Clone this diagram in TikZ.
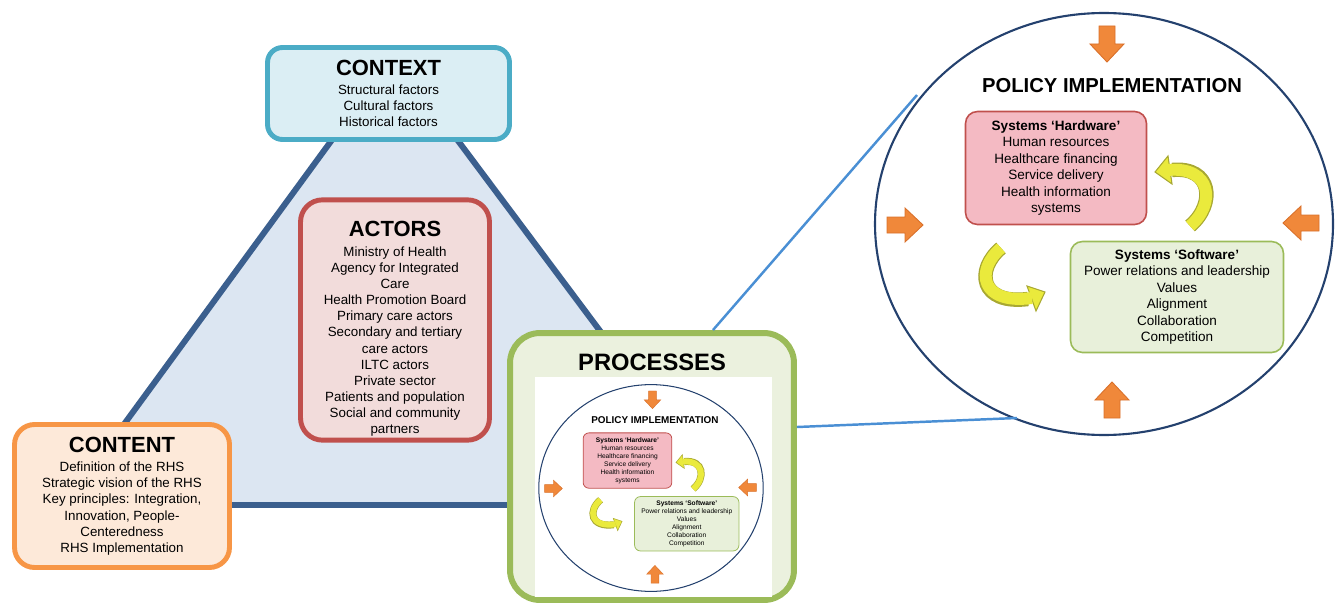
\documentclass[tikz,border=0pt]{standalone}
\usepackage{fontspec}
\setmainfont{Liberation Sans}
\usepackage{tikz}
\usetikzlibrary{positioning, calc}

\definecolor{ctxline}{HTML}{4BACC6}
\definecolor{ctxfill}{HTML}{DBEEF4}
\definecolor{actline}{HTML}{C0504D}
\definecolor{actfill}{HTML}{F2DCDB}
\definecolor{conline}{HTML}{F79646}
\definecolor{confill}{HTML}{FDE9D9}
\definecolor{proline}{HTML}{9BBB59}
\definecolor{profill}{HTML}{EBF1DE}
\definecolor{triline}{HTML}{3B5F8E}
\definecolor{trifill}{HTML}{DCE6F2}
\definecolor{linkline}{HTML}{4A8FD4}
\definecolor{circline}{HTML}{24416E}
\definecolor{orfill}{HTML}{F0883A}
\definecolor{ordraw}{HTML}{D9702A}
\definecolor{hwfill}{HTML}{F4BAC3}
\definecolor{swfill}{HTML}{E8F0DA}
\definecolor{ylfill}{HTML}{EAEA3C}
\definecolor{yldraw}{HTML}{A8A832}

\newcommand{\titlefont}{\bfseries\fontsize{12.5}{14}\selectfont}
\newcommand{\bodyfont}{\fontsize{7.6}{9.2}\selectfont}
\newcommand{\sysfont}{\fontsize{7.7}{9.4}\selectfont}

\tikzset{
    pics/barrow/.style={code={
        \filldraw[fill=orfill, draw=ordraw, line width=#1*0.5pt]
            (-18,-8) -- (0,-8) -- (0,-17) -- (18,0) -- (0,17) -- (0,8) -- (-18,8) -- cycle;
    }},
    pics/policy/.style={code={
        % outer circle
        \draw[circline, line width=#1*1.2pt] (0,0) ellipse [x radius=229, y radius=211];
        \coordinate (-in1) at (-187,-129);
        \coordinate (-in2) at (-87,194);
        % pressure arrows
        \pic[rotate=-90] at (3,-180) {barrow=#1};
        \pic[rotate=90] at (8,176) {barrow=#1};
        \pic at (-199,1) {barrow=#1};
        \pic[rotate=180] at (197,-1) {barrow=#1};
        % title and system boxes
        \node[font=\bfseries\fontsize{11.5}{13}\selectfont] (-title) at (8,-138) {POLICY IMPLEMENTATION};
        \node[sysbox={actline}{hwfill}, line width=#1*0.9pt, rounded corners=#1*6.8pt,
              minimum width=3.62cm, minimum height=2.26cm] (-hw) at (-48,-56)
            {{\bfseries Systems ‘Hardware’}\\Human resources\\Healthcare financing\\Service delivery\\Health information\\systems};
        \node[sysbox={proline}{swfill}, line width=#1*0.9pt, rounded corners=#1*6.8pt,
              minimum width=4.26cm, minimum height=2.22cm] (-sw) at (73,73)
            {{\bfseries Systems ‘Software’}\\Power relations and leadership\\Values\\Alignment\\Collaboration\\Competition};
        % cycle arrows
        \draw[yldraw, line width=#1*8.2pt] (86,2) .. controls (112,-20) and (108,-58) .. (68,-54);
        \filldraw[fill=ylfill, draw=yldraw, line width=#1*0.6pt] (51,-52) -- (64,-68) -- (68,-40) -- cycle;
        \draw[ylfill, line width=#1*6.8pt] (86,2) .. controls (112,-20) and (108,-58) .. (64,-54);
        \draw[yldraw, line width=#1*8.2pt] (-103,24) .. controls (-129,46) and (-124,81) .. (-76,75);
        \filldraw[fill=ylfill, draw=yldraw, line width=#1*0.6pt] (-59,68) -- (-77,62) -- (-68,87) -- cycle;
        \draw[ylfill, line width=#1*6.8pt] (-103,24) .. controls (-129,46) and (-124,81) .. (-72,74);
    }}
}

\begin{document}
\begin{tikzpicture}[
    x=0.02cm, y=-0.02cm,
    block/.style={rectangle, draw=#1line, fill=#1fill, line width=2.8pt, align=center, font=\bodyfont, inner sep=2pt},
    sysbox/.style 2 args={rectangle, draw=#1, fill=#2, align=center, font=\sysfont, inner sep=2pt},
    link/.style={linkline, line width=1.4pt}
]
\useasboundingbox (0,0) rectangle (1335,608);

% Triangle behind the boxes
\coordinate (apex) at (394,55);
\coordinate (left) at (65,505);
\coordinate (right) at (730,505);
\draw[triline, fill=trifill, line width=3.4pt] (apex) -- (left) -- (right) -- cycle;

% Corner blocks
\node[block=ctx, minimum width=4.84cm, minimum height=1.84cm, rounded corners=0.3cm] (context) at (388.5,93.5)
    {{\titlefont CONTEXT}\\[1.8pt]Structural factors\\Cultural factors\\Historical factors};
\node[block=act, minimum width=3.78cm, minimum height=4.78cm, rounded corners=0.44cm] (actors) at (395,320)
    {{\titlefont\rule{0pt}{19pt}ACTORS}\\[1.8pt]Ministry of Health\\Agency for Integrated\\Care\\Health Promotion Board\\Primary care actors\\Secondary and tertiary\\care actors\\ILTC actors\\Private sector\\Patients and population\\Social and community\\partners};
\node[block=con, minimum width=4.3cm, minimum height=2.86cm, rounded corners=0.4cm] (content) at (122,496)
    {{\titlefont CONTENT}\\[1.8pt]Definition of the RHS\\Strategic vision of the RHS\\Key principles: Integration,\\Innovation, People-\\Centeredness\\RHS Implementation};
\node[block=pro, minimum width=5.68cm, minimum height=5.34cm, rounded corners=0.6cm, line width=3.4pt] (proc) at (652,466.5) {};
\node[font=\bfseries\fontsize{13.5}{15}\selectfont] (proctitle) at (652,362) {PROCESSES};

% Policy implementation, small and enlarged
\fill[white] (535,377) rectangle (772,597);
\pic[scale=0.49, transform shape] (small) at (651,488) {policy=0.49};
\pic (big) at (1104,224) {policy=1};

% Zoom lines
\draw[link] ([xshift=1.22cm]proc.north) -- (big-in1);
\draw[link] ([yshift=0.79cm]proc.east) -- (big-in2);
\end{tikzpicture}
\end{document}
